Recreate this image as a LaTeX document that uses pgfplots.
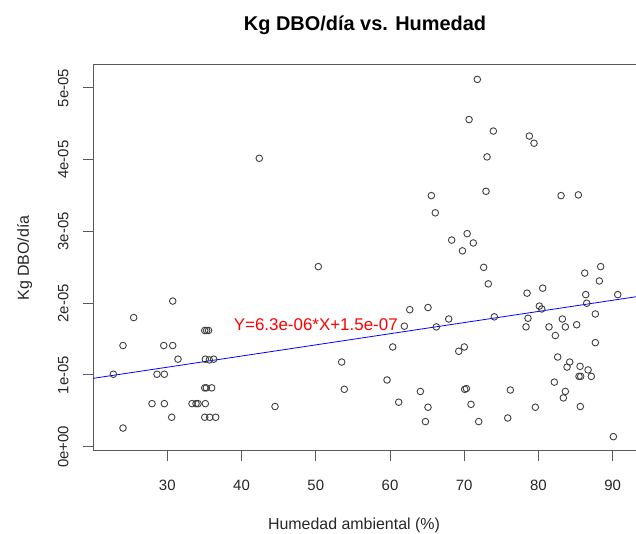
\documentclass[border=0pt]{standalone}
\usepackage{pgfplots}
\pgfplotsset{compat=1.18}
\usepackage{fontspec}
\setmainfont{Liberation Sans}
\definecolor{axgray}{gray}{0.35}
\begin{document}
\begin{tikzpicture}
\begin{axis}[
  scale only axis, width=542.7bp, height=386.3bp,
  xmin=20.03, xmax=93.14, ymin=-0.06e-5, ymax=5.325e-5,
  axis x line=box, axis y line=left,
  axis line style={-, draw=axgray, line width=1bp},
  xtick={30,40,50,60,70,80,90}, xticklabels={30,40,50,60,70,80,90},
  ytick={0,1e-5,2e-5,3e-5,4e-5,5e-5},
  yticklabels={0e+00,1e-05,2e-05,3e-05,4e-05,5e-05},
  scaled y ticks=false, scaled x ticks=false,
  tick align=outside, xtick pos=left, ytick pos=left,
  major tick length=10bp,
  tick style={draw=axgray, line width=1bp},
  ticklabel style={font=\fontsize{15}{18}\selectfont, text=black!85},
  xticklabel style={anchor=north, yshift=-16bp},
  yticklabel style={anchor=center, xshift=-20bp, rotate=90},
  clip=false,
]
\addplot[only marks, mark=o, mark size=3.3bp, mark options={draw=black!75, line width=0.9bp}] table {
x y
22.73 1.01e-5
24.03 1.41e-5
24.03 0.26e-5
25.47 1.80e-5
27.94 0.60e-5
28.61 1.01e-5
29.52 1.41e-5
29.60 1.01e-5
29.60 0.60e-5
30.59 0.41e-5
30.73 2.03e-5
30.73 1.41e-5
31.44 1.22e-5
33.33 0.60e-5
33.87 0.60e-5
34.14 0.60e-5
35.04 1.62e-5
35.30 1.62e-5
35.56 1.62e-5
35.12 1.22e-5
35.66 1.21e-5
36.25 1.22e-5
35.04 0.82e-5
35.26 0.82e-5
35.98 0.82e-5
35.12 0.60e-5
35.04 0.41e-5
35.71 0.41e-5
36.52 0.41e-5
42.39 4.02e-5
44.51 0.56e-5
50.34 2.51e-5
53.49 1.18e-5
53.84 0.80e-5
59.60 0.93e-5
60.37 1.39e-5
61.17 0.62e-5
61.93 1.68e-5
62.66 1.91e-5
64.09 0.77e-5
64.77 0.35e-5
65.12 1.94e-5
65.12 0.55e-5
65.57 3.50e-5
66.10 3.26e-5
66.24 1.67e-5
67.91 1.78e-5
68.31 2.88e-5
69.26 1.33e-5
69.76 2.73e-5
70.01 1.39e-5
70.06 0.80e-5
70.29 0.81e-5
70.39 2.97e-5
70.65 4.56e-5
70.91 0.59e-5
71.22 2.84e-5
71.76 5.12e-5
71.95 0.35e-5
72.62 2.50e-5
72.93 3.56e-5
73.07 4.04e-5
73.24 2.27e-5
73.92 4.40e-5
74.05 1.81e-5
75.86 0.40e-5
76.21 0.79e-5
78.32 1.67e-5
78.46 2.14e-5
78.59 1.79e-5
78.77 4.33e-5
79.40 4.23e-5
79.58 0.55e-5
80.12 1.96e-5
80.44 1.92e-5
80.57 2.21e-5
81.42 1.67e-5
82.14 0.90e-5
82.27 1.55e-5
82.59 1.25e-5
83.04 3.50e-5
83.22 1.78e-5
83.35 0.68e-5
83.62 1.67e-5
83.62 0.77e-5
83.85 1.11e-5
84.21 1.18e-5
85.15 1.70e-5
85.37 3.51e-5
85.46 0.98e-5
85.69 0.98e-5
85.60 1.12e-5
85.64 0.56e-5
86.23 2.42e-5
86.37 2.12e-5
86.50 2.00e-5
86.68 1.07e-5
87.12 0.98e-5
87.66 1.85e-5
87.66 1.45e-5
88.20 2.31e-5
88.38 2.51e-5
90.09 0.14e-5
90.68 2.12e-5
};
\addplot[blue, line width=0.8bp] coordinates {(20.03,0.953e-5) (93.14,2.09e-5)};
\node[text=red, font=\fontsize{17}{20}\selectfont] at (axis cs:50,1.70e-5) {Y=6.3e-06*X+1.5e-07};
\coordinate (sw) at (rel axis cs:0,0);
\end{axis}
\begin{scope}[shift={(sw)}, x=1bp, y=-1bp, shift={(-93.3,-451)}]
\node[anchor=base, font=\fontsize{20}{24}\selectfont\bfseries] at (365,30.5) {Kg DBO/día vs. Humedad};
\node[anchor=base, font=\fontsize{16}{19}\selectfont, text=black!85] at (354,530) {Humedad ambiental (\%)};
\node[anchor=base, rotate=90, font=\fontsize{16}{19}\selectfont, text=black!85] at (29,258) {Kg DBO/día};
\pgfresetboundingbox
\path (0,0) rectangle (636,534);
\end{scope}
\end{tikzpicture}
\end{document}
